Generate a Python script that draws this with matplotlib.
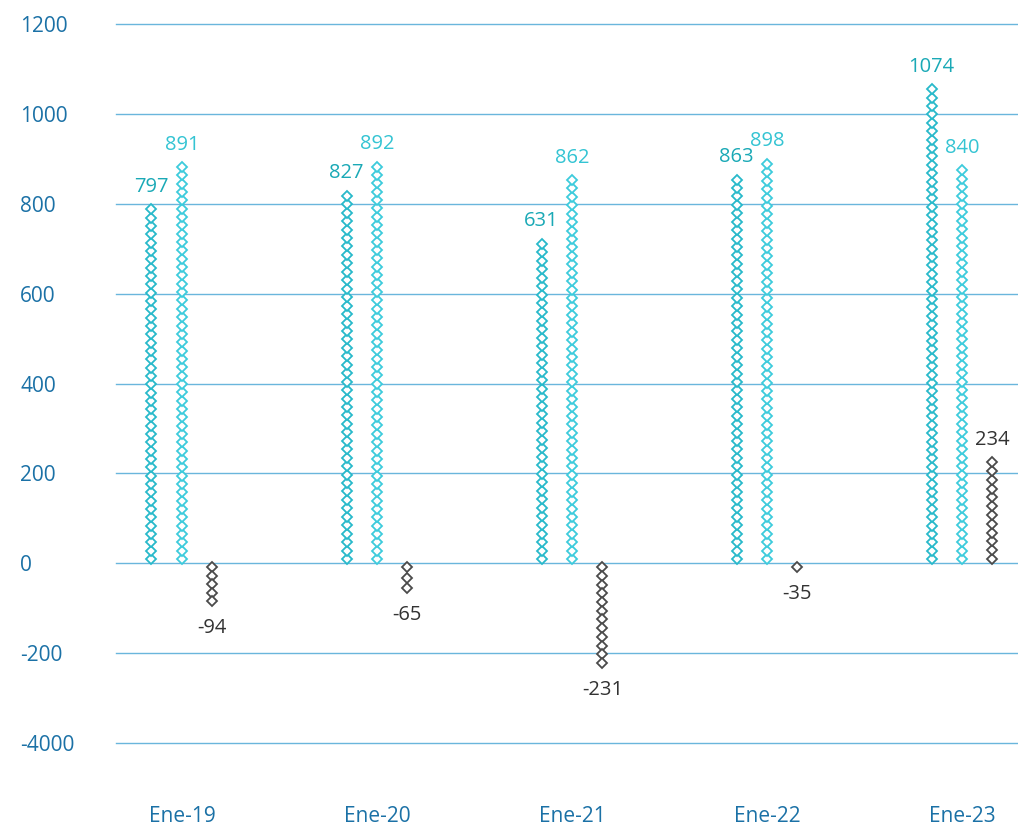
import matplotlib.pyplot as plt
import numpy as np

plt.rcParams['font.family'] = ['Open Sans', 'DejaVu Sans']

# data
categories = ['Ene-19', 'Ene-20', 'Ene-21', 'Ene-22', 'Ene-23']
labels_a = [797, 827, 631, 863, 1074]
labels_b = [891, 892, 862, 898, 840]
values_c = [-94, -65, -231, -35, 234]
# stack heights as drawn in the picture (differ from labels for a couple of bars)
drawn_a = [797, 827, 720, 863, 1064]
drawn_b = [891, 892, 862, 898, 884]
yticks = [-400, -200, 0, 200, 400, 600, 800, 1000, 1200]
ytick_labels = ['-4000', '-200', '0', '200', '400', '600', '800', '1000', '1200']

col_a = '#27b9ca'
col_b = '#3ccbdc'
col_c = '#4a4a4a'
lab_a = '#1aa9b6'
lab_b = '#34c4d3'
tick_col = '#1b71a6'
grid_col = '#6ab6dc'

fig = plt.figure(figsize=(10.18, 8.34), dpi=100)
ax = fig.add_axes([116 / 1018, 1 - 743 / 834, 1 - 116 / 1018, (743 - 24) / 834])
ax.set_ylim(-400, 1200)
ax.set_xlim(-0.338, 4.287)

STEP = 18.5  # data units between diamonds


def stack(x, h, color):
    n = max(1, int(abs(h) // STEP))
    if n > 1:
        ys = np.sign(h) * np.linspace(STEP / 2, abs(h) - STEP / 2, n)
    else:
        ys = np.sign(h) * np.array([STEP / 2])
    ax.plot(np.full(n, x), ys, linestyle='none', marker='D', ms=5.3,
            mfc='white', mec=color, mew=1.3, zorder=3)
    return ys[-1]


off = 0.156
xs = np.arange(len(categories))
for i in xs:
    ta = stack(i - off, drawn_a[i], col_a)
    tb = stack(i, drawn_b[i], col_b)
    tc = stack(i + off, values_c[i], col_c)
    ax.annotate(str(labels_a[i]), (i - off, ta), xytext=(0, 9), textcoords='offset points',
                ha='center', va='bottom', fontsize=14.5, color=lab_a)
    ax.annotate(str(labels_b[i]), (i, tb), xytext=(0, 9), textcoords='offset points',
                ha='center', va='bottom', fontsize=14.5, color=lab_b)
    if values_c[i] < 0:
        ax.annotate(str(values_c[i]), (i + off, tc), xytext=(0, -12), textcoords='offset points',
                    ha='center', va='top', fontsize=14.5, color='#333333')
    else:
        ax.annotate(str(values_c[i]), (i + off, tc), xytext=(0, 9), textcoords='offset points',
                    ha='center', va='bottom', fontsize=14.5, color='#333333')

for y in yticks:
    ax.axhline(y, color=grid_col, lw=1.0, zorder=1, clip_on=False)

ax.set_yticks(yticks)
ax.set_yticklabels(ytick_labels, fontsize=15, color=tick_col, ha='left')
ax.tick_params(axis='y', length=0, pad=69)
ax.set_xticks(xs)
ax.set_xticklabels(categories, fontsize=15, color=tick_col)
ax.tick_params(axis='x', length=0, pad=45)
for s in ax.spines.values():
    s.set_visible(False)

fig.savefig('out.png', dpi=100)
